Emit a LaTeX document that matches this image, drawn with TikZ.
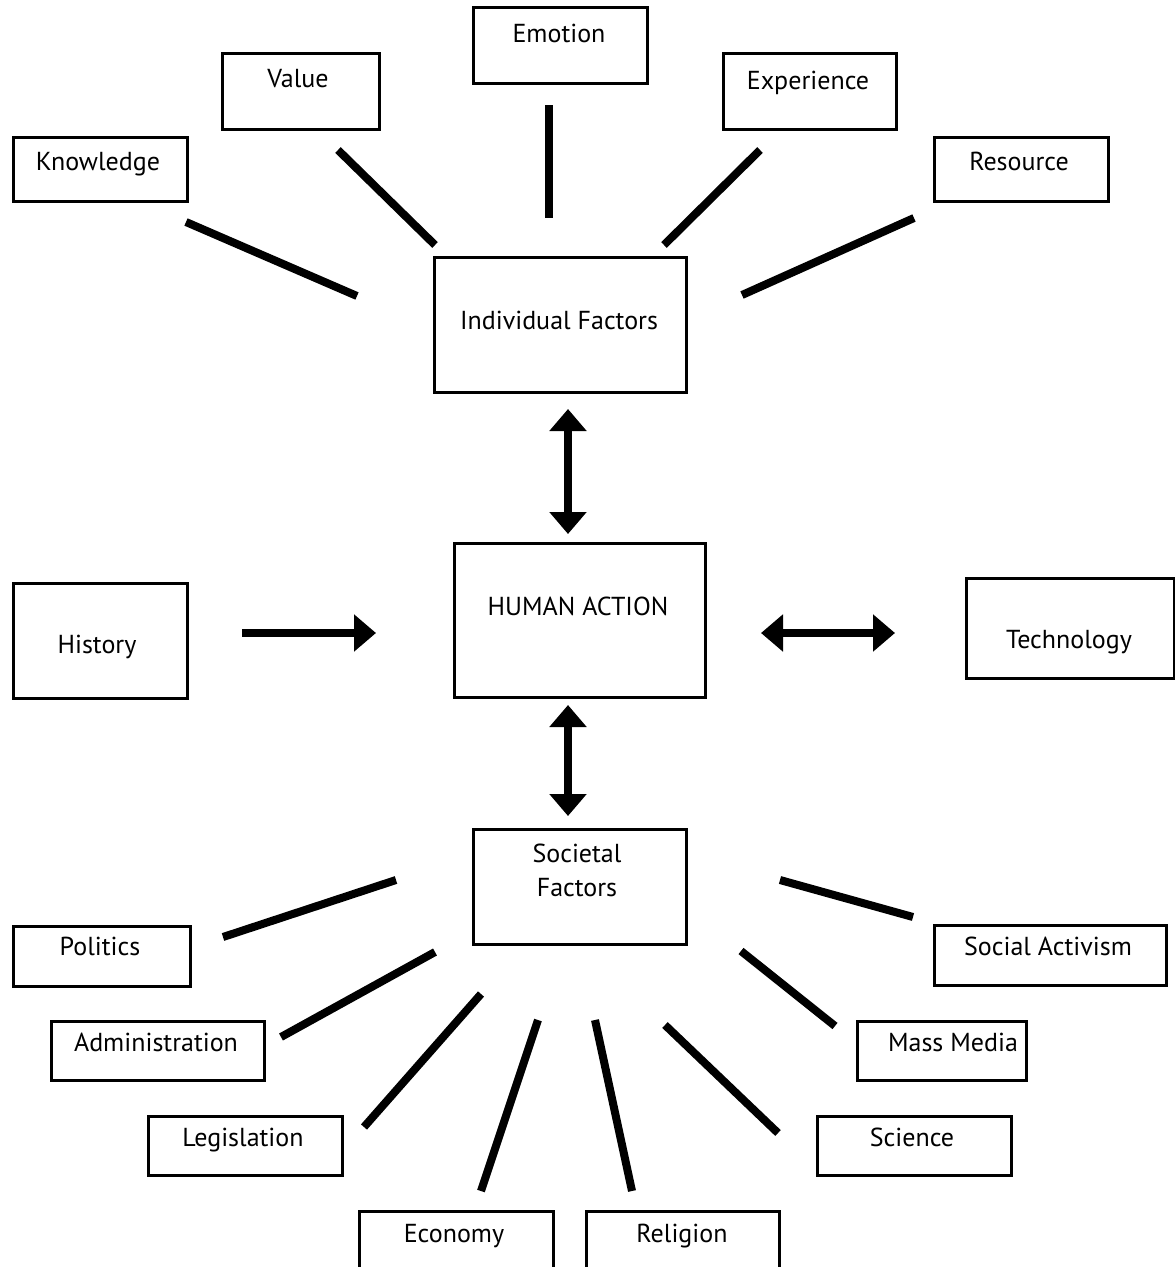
\documentclass[tikz,border=0pt]{standalone}
\usepackage{fontspec}
\setmainfont{PT Sans}[Ligatures=NoCommon]
\usetikzlibrary{arrows.meta}
\tikzset{
  box/.style={draw=black, line width=2.6pt, fill=white, inner sep=0pt},
  txt/.style={anchor=base, inner sep=0pt, font=\fontsize{26}{30}\selectfont},
  spoke/.style={line width=8pt},
  dbl/.style={line width=8pt, {Triangle[length=22pt,width=36pt]}-{Triangle[length=22pt,width=36pt]}},
  sgl/.style={line width=8pt, -{Triangle[length=22pt,width=36pt]}}
}
\newcommand{\pbox}[5]{% name, left, top, right, bottom
  \node[box, minimum width={#4-#2}, minimum height={#5-#3}, anchor=north west] (#1) at (#2,#3) {};}
\begin{document}
\begin{tikzpicture}[x=1pt,y=-1pt]
\useasboundingbox (0,0) rectangle (1175,1267);
% boxes
\pbox{emo}{472}{6}{646}{82}
\pbox{val}{221}{52}{378}{128}
\pbox{exp}{722}{52}{895}{128}
\pbox{kno}{12}{136}{186}{200}
\pbox{res}{933}{136}{1107}{200}
\pbox{ind}{433}{256}{685}{391}
\pbox{hum}{453}{542}{704}{696}
\pbox{his}{12}{582}{186}{697}
\pbox{tec}{965}{577}{1173}{677}
\pbox{soc}{472}{828}{685}{943}
\pbox{pol}{12}{925}{189}{985}
\pbox{act}{933}{924}{1165}{984}
\pbox{adm}{50}{1020}{263}{1079}
\pbox{med}{856}{1020}{1025}{1079}
\pbox{leg}{147}{1115}{341}{1174}
\pbox{sci}{816}{1115}{1010}{1174}
\pbox{eco}{358}{1210}{552}{1267}
\pbox{rel}{585}{1210}{778}{1267}
% texts
\node[txt] (temo) at (559,42) {Emotion};
\node[txt] (tval) at (298,87) {Value};
\node[txt] (texp) at (808,89) {Experience};
\node[txt] (tkno) at (98,170) {Knowledge};
\node[txt] (tres) at (1019,170) {Resource};
\node[txt] (tind) at (559,329) {Individual Factors};
\node[txt] (thum) at (578,615) {HUMAN ACTION};
\node[txt] (this) at (97,653) {History};
\node[txt] (ttec) at (1069,648) {Technology};
\node[txt] (tsoc1) at (577,862) {Societal};
\node[txt] (tsoc2) at (577,896) {Factors};
\node[txt] (tpol) at (100,955) {Politics};
\node[txt] (tact) at (1048,955) {Social Activism};
\node[txt] (tadm) at (156,1051) {Administration};
\node[txt] (tmed) at (953,1051) {Mass Media};
\node[txt] (tleg) at (243,1146) {Legislation};
\node[txt] (tsci) at (912,1146) {Science};
\node[txt] (teco) at (454,1242) {Economy};
\node[txt] (trel) at (682,1242) {Religion};
% spoke end coordinates
\coordinate (k1) at (186,222); \coordinate (k2) at (357,296);
\coordinate (v1) at (338,150); \coordinate (v2) at (435,245);
\coordinate (e1) at (549,105); \coordinate (e2) at (549,218);
\coordinate (x1) at (760,150); \coordinate (x2) at (664,245);
\coordinate (r1) at (914,218); \coordinate (r2) at (742,295);
\coordinate (p1) at (223,937); \coordinate (p2) at (396,880);
\coordinate (a1) at (281,1037); \coordinate (a2) at (435,952);
\coordinate (l1) at (364,1127); \coordinate (l2) at (481,994);
\coordinate (c1) at (481,1191); \coordinate (c2) at (538,1020);
\coordinate (g1) at (632,1191); \coordinate (g2) at (595,1020);
\coordinate (s1) at (778,1133); \coordinate (s2) at (665,1025);
\coordinate (m1) at (835,1026); \coordinate (m2) at (741,951);
\coordinate (t1) at (913,917); \coordinate (t2) at (780,880);
\foreach \a/\b in {k1/k2,v1/v2,e1/e2,x1/x2,r1/r2,p1/p2,a1/a2,l1/l2,c1/c2,g1/g2,s1/s2,m1/m2,t1/t2}
  \draw[spoke] (\a) -- (\b);
% arrows
\coordinate (ih1) at (568,409); \coordinate (ih2) at (568,534);
\coordinate (hs1) at (568,705); \coordinate (hs2) at (568,816);
\coordinate (hh1) at (242,633); \coordinate (hh2) at (376,633);
\coordinate (ht1) at (761,633); \coordinate (ht2) at (895,633);
\draw[dbl] (ih1) -- (ih2);
\draw[dbl] (hs1) -- (hs2);
\draw[sgl] (hh1) -- (hh2);
\draw[dbl] (ht1) -- (ht2);
\end{tikzpicture}
\end{document}
